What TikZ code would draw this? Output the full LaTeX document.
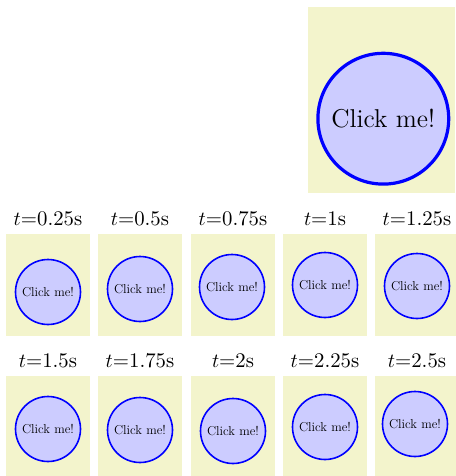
\documentclass[tikz,border=0pt]{standalone}
\definecolor{panelyellow}{RGB}{243,244,204}
\newcommand{\smalltext}[1]{\scalebox{0.5}{\fontsize{12.9}{15}\selectfont #1}}
\begin{document}
\begin{tikzpicture}[x=0.5pt,y=-0.5pt,
  panel/.style={fill=panelyellow,draw=none},
  smallbtn/.style={circle,fill=blue!20,draw=blue,line width=0.8pt,inner sep=0pt,
    minimum size=32.5pt},
  bigbtn/.style={circle,fill=blue!20,draw=blue,line width=1.6pt,inner sep=0pt,
    minimum size=65.4pt,font=\fontsize{12.9}{15}\selectfont},
  timelabel/.style={anchor=base,inner sep=0pt,font=\fontsize{10.4}{12}\selectfont}]
\useasboundingbox (0,0) rectangle (455,476);
% big panel
\fill[panel] (308,7) rectangle (455,193);
\node[bigbtn] (big) at (383.3,118.7) {Click me!};
% row 1
\foreach \i/\px/\cx/\cy/\lab in {1/6/48/292/0.25,2/98/140/289/0.5,3/191/232/287/0.75,4/283/325/285/1,5/375/417/286/1.25}{
  \fill[panel] (\px,234) rectangle ++(84,102);
  \node[timelabel] (labA\i) at (\px+42,225) {$t$=\lab s};
  \node[smallbtn] (btnA\i) at (\cx,\cy) {\smalltext{Click me!}};
}
% row 2
\foreach \i/\px/\cx/\cy/\lab in {1/6/48/429/1.5,2/98/140/430/1.75,3/191/233/431/2,4/283/325/427/2.25,5/375/415/424/2.5}{
  \fill[panel] (\px,376) rectangle ++(84,102);
  \node[timelabel] (labB\i) at (\px+42,367) {$t$=\lab s};
  \node[smallbtn] (btnB\i) at (\cx,\cy) {\smalltext{Click me!}};
}
\end{tikzpicture}
\end{document}
